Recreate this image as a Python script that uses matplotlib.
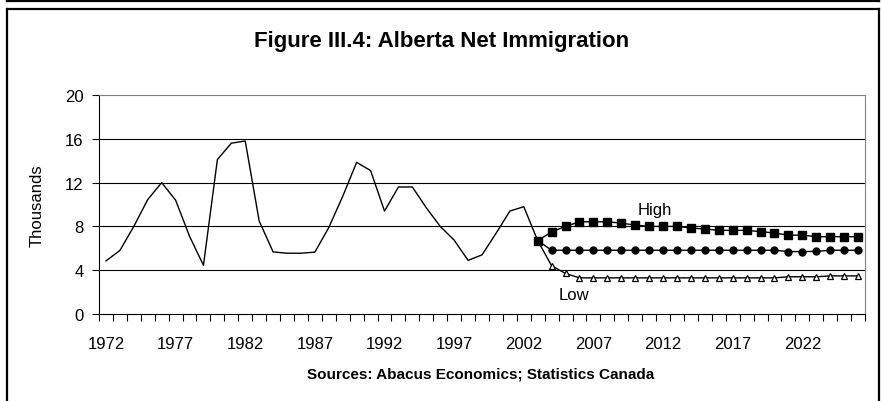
import matplotlib
matplotlib.use("Agg")
import matplotlib.pyplot as plt
from matplotlib.lines import Line2D

plt.rcParams['font.family'] = ['Liberation Sans', 'DejaVu Sans']

# ---- data (thousands) ----
hist_years = list(range(1972, 2004))
hist_values = [4.85, 5.8, 8.0, 10.45, 12.0, 10.4, 7.1, 4.45, 14.1, 15.6, 15.8,
               8.5, 5.67, 5.55, 5.55, 5.65, 7.9, 10.75, 13.85, 13.1, 9.4, 11.6,
               11.6, 9.7, 8.0, 6.75, 4.9, 5.4, 7.35, 9.4, 9.8, 6.7]

proj_years = list(range(2003, 2027))
high_values = [6.7, 7.5, 8.0, 8.42, 8.42, 8.42, 8.3, 8.12, 8.0, 8.0, 8.0, 7.85,
               7.76, 7.64, 7.64, 7.64, 7.52, 7.4, 7.2, 7.2, 7.06, 7.06, 7.06, 7.06]
mid_values = [6.7] + [5.82] * 17 + [5.7, 5.7, 5.72, 5.82, 5.82, 5.82]
low_values = [6.7, 4.4, 3.7] + [3.3] * 15 + [3.4, 3.4, 3.4, 3.48, 3.48, 3.48]

yticks = [0, 4, 8, 12, 16, 20]
label_years = list(range(1972, 2027, 5))

fig = plt.figure(figsize=(8.81, 4.02), dpi=100)
ax = fig.add_axes([99 / 881, 1 - 315 / 402, (865 - 99) / 881, (315 - 96) / 402])

for g in [4, 8, 12, 16]:
    ax.axhline(g, color='black', lw=0.8, zorder=1)

ax.plot(hist_years, hist_values, color='black', lw=1.0, zorder=3)
ax.plot(proj_years, low_values, color='black', lw=1.0, marker='^', ms=5,
        mfc='white', mec='black', mew=0.9, zorder=4)
ax.plot(proj_years, mid_values, color='black', lw=1.0, marker='o', ms=5,
        mfc='black', mec='black', zorder=5)
ax.plot(proj_years, high_values, color='black', lw=1.0, marker='s', ms=5.5,
        mfc='black', mec='black', zorder=6)

ax.set_xlim(1971.5, 2026.5)
ax.set_ylim(0, 20)
ax.set_yticks(yticks)
ax.set_yticklabels([str(v) for v in yticks], fontsize=12)
ax.tick_params(axis='y', direction='out', length=5, width=0.8, pad=6)

# minor ticks between categories, labels at every 5th category
ax.set_xticks([y - 0.5 for y in range(1972, 2028)], minor=True)
ax.set_xticks(label_years)
ax.set_xticklabels([str(v) for v in label_years], fontsize=12)
ax.tick_params(axis='x', which='major', length=0, pad=16)
ax.tick_params(axis='x', which='minor', direction='out', length=5, width=0.8)

for s in ['top', 'right']:
    ax.spines[s].set_color('#808080')
    ax.spines[s].set_linewidth(0.8)
for s in ['left', 'bottom']:
    ax.spines[s].set_color('black')
    ax.spines[s].set_linewidth(0.8)

ax.text(2011.4, 9.13, 'High', ha='center', va='baseline', fontsize=12)
ax.text(2005.6, 1.37, 'Low', ha='center', va='baseline', fontsize=12)

fig.text(442 / 881, 1 - 47 / 402, 'Figure III.4: Alberta Net Immigration',
         ha='center', va='baseline', fontsize=16, fontweight='bold')
fig.text(481 / 881, 1 - 379 / 402, 'Sources: Abacus Economics; Statistics Canada',
         ha='center', va='baseline', fontsize=11, fontweight='bold')
fig.text(37 / 881, 1 - 206 / 402, 'Thousands', rotation=90,
         ha='center', va='center', fontsize=12)

# chart frames
W, H = 881, 402
def fl(x0, y0, x1, y1, lw=1.6):
    fig.add_artist(Line2D([x0 / W, x1 / W], [1 - y0 / H, 1 - y1 / H],
                          color='black', lw=lw, transform=fig.transFigure))
fl(7, 1.5, 879, 1.5)
fl(7, 0, 7, 1.5)
fl(879, 0, 879, 1.5)
fl(7, 9.5, 879, 9.5)
fl(7, 9.5, 7, 402)
fl(879, 9.5, 879, 402)

fig.savefig('out.png', dpi=100)
